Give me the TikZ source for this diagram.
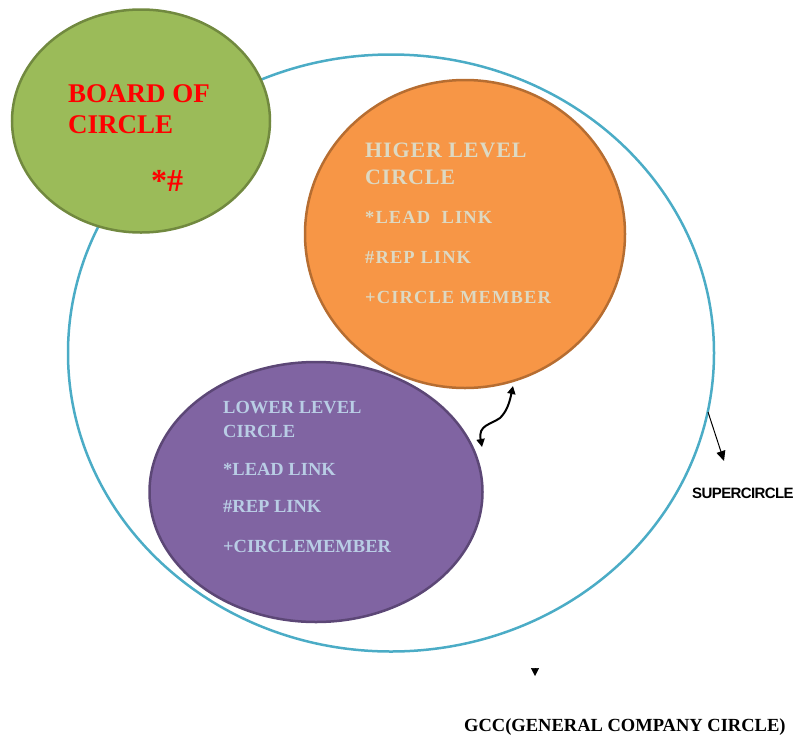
\documentclass[tikz,border=0pt]{standalone}
\usepackage{fontspec}
\setmainfont{Liberation Serif}
\newfontfamily\labelsans{Liberation Sans}
\usetikzlibrary{shapes.geometric,arrows.meta}
\definecolor{superblue}{HTML}{4BACC6}
\definecolor{boardfill}{HTML}{9BBB59}
\definecolor{boardline}{HTML}{71893F}
\definecolor{highfill}{HTML}{F79646}
\definecolor{highline}{HTML}{B66D31}
\definecolor{lowfill}{HTML}{8064A2}
\definecolor{lowline}{HTML}{5C4776}
\definecolor{hightext}{HTML}{DDD9C3}
\definecolor{lowtext}{HTML}{B9CDE5}
\tikzset{
  circ/.style={ellipse, draw, line width=2.5pt, inner sep=0pt},
  txt/.style={anchor=base west, inner sep=0pt, font=\bfseries},
  boardtxt/.style={txt, text=red, font=\bfseries\fontsize{27}{27}\selectfont},
  hightitle/.style={txt, text=hightext, font=\bfseries\fontsize{22}{22}\selectfont\addfontfeature{LetterSpace=4}},
  highitem/.style={txt, text=hightext, font=\bfseries\fontsize{18.5}{18.5}\selectfont\addfontfeature{LetterSpace=6}},
  lowitem/.style={txt, text=lowtext, font=\bfseries\fontsize{18.5}{18.5}\selectfont}
}
\begin{document}
\begin{tikzpicture}[x=1pt,y=-1pt]
\useasboundingbox (0,0) rectangle (795,737);
% outer super circle
\node[circ, draw=superblue, minimum width=646pt, minimum height=597pt] (super) at (391,353) {};
% board, higher and lower circles
\node[circ, draw=boardline, fill=boardfill, minimum width=258pt, minimum height=223pt] (board) at (141,121) {};
\node[circ, draw=highline, fill=highfill, minimum width=320pt, minimum height=308pt] (high) at (465,234) {};
\node[circ, draw=lowline, fill=lowfill, minimum width=333pt, minimum height=260pt] (low) at (316,492) {};
% board texts
\node[boardtxt] (b1) at (68,102) {BOARD OF};
\node[boardtxt] (b2) at (68,133) {CIRCLE};
\node[boardtxt, font=\bfseries\fontsize{32}{32}\selectfont] (b3) at (151,191) {*\#};
% higher level texts
\node[hightitle] (h1) at (365,157) {HIGER LEVEL};
\node[hightitle] (h2) at (365,184) {CIRCLE};
\node[highitem] (h3) at (365,223) {*LEAD\ \ LINK};
\node[highitem] (h4) at (365,263) {\#REP LINK};
\node[highitem] (h5) at (365,303) {+CIRCLE MEMBER};
% lower level texts
\node[lowitem] (l1) at (223,413) {LOWER LEVEL};
\node[lowitem] (l2) at (223,437) {CIRCLE};
\node[lowitem] (l3) at (223,475) {*LEAD LINK};
\node[lowitem] (l4) at (223,512) {\#REP LINK};
\node[lowitem] (l5) at (223,552) {+CIRCLEMEMBER};
% outside labels
\node[txt, font=\labelsans\bfseries\fontsize{15}{15}\selectfont] (superlbl) at (692,498) {\addfontfeature{LetterSpace=-4}SUPERCIRCLE};
\node[txt, font=\bfseries\fontsize{18.5}{18.5}\selectfont] (gcc) at (464,731) {GCC(GENERAL COMPANY CIRCLE)};
% connectors
\coordinate (superpt) at (708,412);
\coordinate (supertip) at (724,461);
\draw[line width=1pt, -{Triangle[length=10pt,width=9pt]}] (superpt) -- (supertip);
\coordinate (lowtop) at (482,447);
\coordinate (hightop) at (513,386);
\draw[line width=2pt, {Triangle[length=8pt,width=8pt]}-{Triangle[length=8pt,width=8pt]}]
  (lowtop) .. controls (478,425) and (490,425) .. (500,418)
  .. controls (506,412) and (509,405) .. (hightop);
\coordinate (gccfrom) at (535,668);
\coordinate (gccto) at (535,676);
\draw[line width=0.5pt, -{Triangle[length=8pt,width=8pt]}] (gccfrom) -- (gccto);
\end{tikzpicture}
\end{document}
